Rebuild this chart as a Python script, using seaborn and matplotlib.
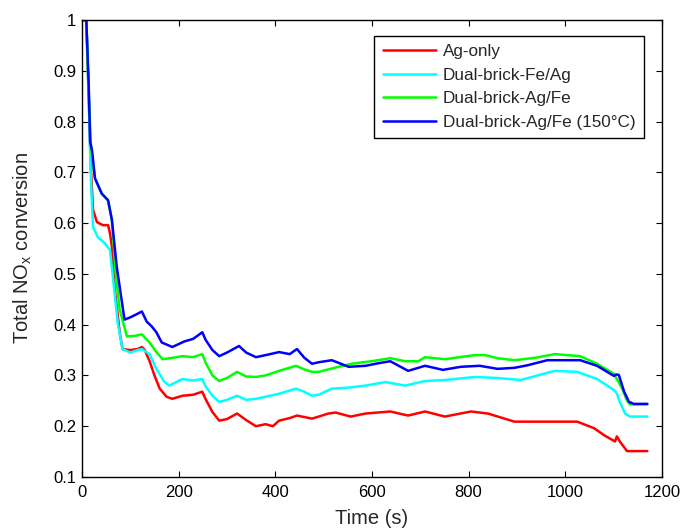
import numpy as np
import pandas as pd
import seaborn as sns
import matplotlib
matplotlib.use("Agg")
import matplotlib.pyplot as plt

# ---- data ----
labels = ["Ag-only", "Dual-brick-Fe/Ag", "Dual-brick-Ag/Fe", "Dual-brick-Ag/Fe (150\u00b0C)"]
colors = ["#ff0000", "#00ffff", "#00ff00", "#0000ff"]

red_t = [3, 9, 14, 18, 21, 23, 31, 43, 54, 58, 62, 68, 78, 84, 100, 115, 124, 130, 140, 150, 161,
         175, 187, 208, 230, 249, 255, 270, 284, 300, 321, 340, 360, 380, 395, 408, 430, 445, 476,
         490, 510, 525, 556, 587, 638, 675, 710, 751, 805, 840, 895, 970, 1025, 1060, 1081, 1103,
         1107, 1113, 1128, 1170]
red_y = [1.0, 1.0, 0.85, 0.72, 0.66, 0.626, 0.602, 0.596, 0.596, 0.58, 0.553, 0.469, 0.385, 0.352,
         0.35, 0.352, 0.356, 0.35, 0.328, 0.30, 0.274, 0.258, 0.254, 0.26, 0.262, 0.268, 0.255,
         0.228, 0.211, 0.214, 0.225, 0.212, 0.200, 0.204, 0.200, 0.211, 0.216, 0.221, 0.215, 0.219,
         0.225, 0.227, 0.219, 0.225, 0.229, 0.221, 0.229, 0.219, 0.229, 0.225, 0.209, 0.209, 0.209,
         0.196, 0.182, 0.17, 0.18, 0.17, 0.151, 0.151]

cyan_t = [3, 9, 14, 18, 21, 23, 33, 47, 58, 64, 74, 84, 100, 115, 124, 140, 154, 170, 181, 208,
          230, 249, 255, 270, 284, 300, 321, 340, 360, 380, 408, 443, 460, 476, 490, 517, 552, 587,
          628, 669, 710, 751, 813, 860, 908, 978, 1025, 1066, 1103, 1108, 1113, 1124, 1134, 1170]
cyan_y = [1.0, 1.0, 0.84, 0.70, 0.63, 0.592, 0.572, 0.561, 0.547, 0.494, 0.404, 0.352, 0.345,
          0.35, 0.352, 0.342, 0.313, 0.288, 0.280, 0.293, 0.29, 0.293, 0.28, 0.26, 0.248, 0.252,
          0.26, 0.252, 0.254, 0.258, 0.264, 0.274, 0.268, 0.26, 0.262, 0.274, 0.276, 0.28, 0.287,
          0.28, 0.289, 0.291, 0.297, 0.295, 0.291, 0.309, 0.307, 0.293, 0.27, 0.262, 0.248, 0.225,
          0.219, 0.219]

green_t = [3, 9, 14, 18, 22, 27, 41, 54, 62, 70, 78, 93, 110, 124, 140, 154, 167, 190, 208, 230,
           249, 256, 270, 284, 300, 321, 340, 360, 380, 408, 443, 460, 476, 490, 531, 558, 599,
           638, 669, 696, 710, 751, 813, 834, 860, 895, 940, 978, 1031, 1066, 1101, 1118, 1128,
           1134, 1170]
green_y = [1.0, 1.0, 0.86, 0.76, 0.72, 0.688, 0.658, 0.645, 0.606, 0.50, 0.43, 0.377, 0.378,
           0.381, 0.365, 0.346, 0.332, 0.335, 0.338, 0.336, 0.342, 0.325, 0.30, 0.289, 0.295,
           0.307, 0.298, 0.297, 0.300, 0.309, 0.319, 0.312, 0.307, 0.307, 0.317, 0.323, 0.328,
           0.334, 0.328, 0.328, 0.336, 0.332, 0.34, 0.34, 0.334, 0.330, 0.335, 0.342, 0.338,
           0.323, 0.303, 0.274, 0.25, 0.243, 0.243]

blue_t = [3, 9, 14, 17, 21, 27, 41, 54, 62, 72, 88, 99, 112, 124, 134, 144, 154, 165, 187, 212,
          230, 249, 256, 270, 284, 300, 325, 340, 360, 380, 408, 430, 445, 460, 476, 490, 517, 552,
          587, 613, 638, 675, 710, 747, 784, 823, 860, 895, 922, 963, 1031, 1066, 1101, 1106, 1111,
          1122, 1132, 1142, 1170]
blue_y = [1.0, 1.0, 0.87, 0.76, 0.742, 0.688, 0.658, 0.645, 0.606, 0.514, 0.41, 0.414, 0.42,
          0.426, 0.406, 0.397, 0.385, 0.365, 0.356, 0.367, 0.372, 0.385, 0.37, 0.35, 0.338, 0.345,
          0.358, 0.345, 0.336, 0.34, 0.346, 0.342, 0.352, 0.335, 0.323, 0.326, 0.33, 0.317, 0.319,
          0.324, 0.328, 0.309, 0.319, 0.311, 0.317, 0.319, 0.313, 0.315, 0.32, 0.33, 0.33, 0.319,
          0.299, 0.302, 0.301, 0.268, 0.248, 0.244, 0.244]

x_ticks = [0, 200, 400, 600, 800, 1000, 1200]
y_ticks = [0.1, 0.2, 0.3, 0.4, 0.5, 0.6, 0.7, 0.8, 0.9, 1]
y_tick_labels = ["0.1", "0.2", "0.3", "0.4", "0.5", "0.6", "0.7", "0.8", "0.9", "1"]

# ---- build long-form table ----
frames = []
for lab, t, y in zip(labels, [red_t, cyan_t, green_t, blue_t], [red_y, cyan_y, green_y, blue_y]):
    frames.append(pd.DataFrame({"Time": t, "Conv": y, "Series": lab}))
df = pd.concat(frames, ignore_index=True)

sns.set_style("ticks")
plt.rcParams["font.family"] = ["Liberation Sans", "DejaVu Sans"]
plt.rcParams["mathtext.default"] = "regular"

fig = plt.figure(figsize=(6.83, 5.28), dpi=100)
ax = fig.add_axes([0.120, 0.0966, 0.849, 0.8655])

sns.lineplot(data=df, x="Time", y="Conv", hue="Series", hue_order=labels,
             palette=dict(zip(labels, colors)), sort=False, estimator=None,
             linewidth=1.8, ax=ax)

ax.set_xlim(0, 1200)
ax.set_ylim(0.1, 1.0)
ax.set_xticks(x_ticks)
ax.set_xticklabels([str(v) for v in x_ticks])
ax.set_yticks(y_ticks)
ax.set_yticklabels(y_tick_labels)
ax.tick_params(direction="in", top=True, right=True, length=4, width=0.8,
               labelsize=12, colors="black")
ax.tick_params(axis="x", pad=6)
ax.tick_params(axis="y", pad=4)
for s in ax.spines.values():
    s.set_linewidth(1.0)
    s.set_color("black")

ax.set_xlabel("Time (s)", fontsize=14.5, labelpad=6)
ax.set_ylabel("Total NO$_x$ conversion", fontsize=14.5, labelpad=14)

leg = ax.legend(loc="upper right", bbox_to_anchor=(0.969, 0.966), borderaxespad=0,
                fontsize=12.3, frameon=True, fancybox=False, edgecolor="black",
                handlelength=3.1, handletextpad=0.42, labelspacing=0.5, borderpad=0.5)
leg.get_frame().set_linewidth(1.0)
leg.get_frame().set_alpha(1)

fig.savefig("out.png", dpi=100)
